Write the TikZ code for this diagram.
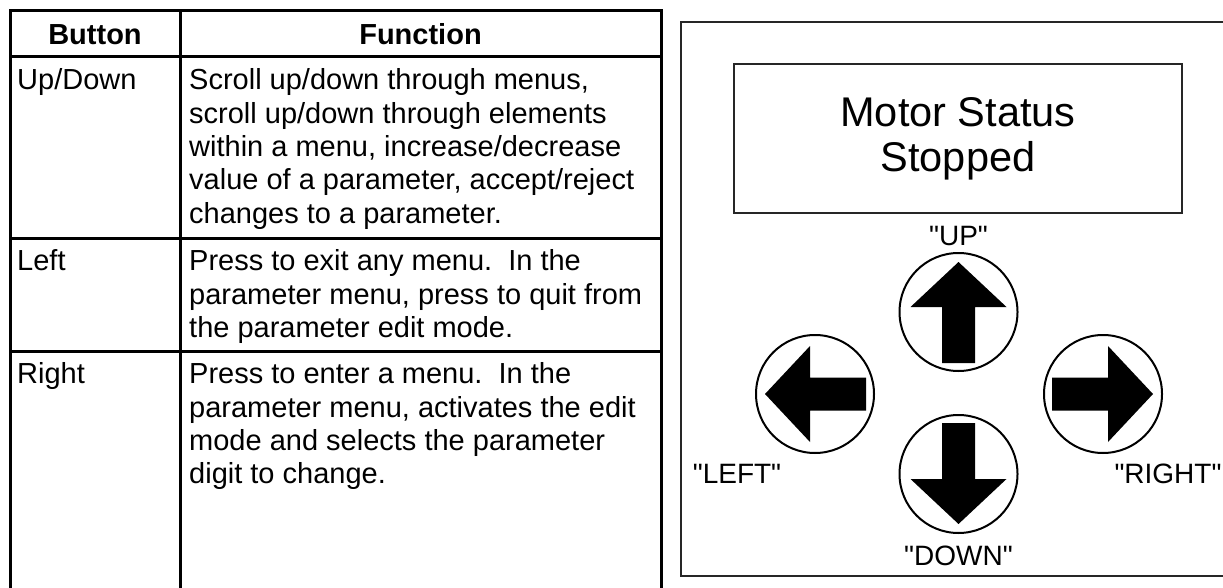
\documentclass[tikz,border=0pt]{standalone}
\usepackage{fontspec}
\setmainfont{Liberation Sans}[Ligatures=TeXOff]
\begin{document}
\begin{tikzpicture}[x=1pt,y=-1pt,
  tblline/.style={line width=3pt,black,line join=miter},
  frame/.style={line width=2.4pt,black!85,line join=miter},
  cell/.style={anchor=base west,inner sep=0pt,font=\fontsize{29}{33.3}\selectfont},
  hdr/.style={anchor=base,inner sep=0pt,font=\fontsize{29}{33.3}\selectfont\bfseries},
  lcdtext/.style={anchor=base,inner sep=0pt,font=\fontsize{41.5}{45}\selectfont},
  keylabel/.style={anchor=base,inner sep=0pt,font=\fontsize{28}{32}\selectfont},
  padkey/.style={circle,draw,line width=2pt,minimum size=118pt,inner sep=0pt},
  arrowfill/.style={fill=black}]
\useasboundingbox (0,0) rectangle (1223,588);

% ---- button table ----
\draw[tblline] (10,600) -- (10,11) -- (661,11) -- (661,600);
\draw[tblline] (180,11) -- (180,600);
\draw[tblline] (10,57) -- (661,57);
\draw[tblline] (10,238) -- (661,238);
\draw[tblline] (10,351) -- (661,351);

\node[hdr] (hbutton) at (95,45) {Button};
\node[hdr] (hfunction) at (420.5,45) {Function};

\node[cell] (b1) at (17,90) {Up/Down};
\foreach \t [count=\i] in {{Scroll up/down through menus,},
  {scroll up/down through elements},
  {within a menu, increase/decrease},
  {value of a parameter, accept/reject},
  {changes to a parameter.}}
  \node[cell] (fa\i) at (189,{90+(\i-1)*33.3}) {\t};

\node[cell] (b2) at (17,270.7) {Left};
\node[cell] (fb1) at (189,270.7) {Press to exit any menu.\ \ In the};
\node[cell] (fb2) at (189,304) {parameter menu, press to quit from};
\node[cell] (fb3) at (189,337.3) {the parameter edit mode.};

\node[cell] (b3) at (17,383.7) {Right};
\node[cell] (fc1) at (189,383.7) {Press to enter a menu.\ \ In the};
\node[cell] (fc2) at (189,417) {parameter menu, activates the edit};
\node[cell] (fc3) at (189,450.3) {mode and selects the parameter};
\node[cell] (fc4) at (189,483.6) {digit to change.};

% ---- keypad panel ----
\draw[frame] (1240,22) -- (681,22) -- (681,576) -- (1240,576);
\draw[frame] (734,64) rectangle (1182,213);
\node[lcdtext] (lcd1) at (958,127) {Motor Status};
\node[lcdtext] (lcd2) at (958,172) {Stopped};

\node[padkey] (up) at (958.5,312) {};
\node[padkey] (down) at (958.5,474) {};
\node[padkey] (left) at (815,394) {};
\node[padkey] (right) at (1103,394) {};

\fill[arrowfill,shift={(up.center)}] (0,-50) -- (48,-5) -- (16.5,-5) -- (16.5,51) -- (-16.5,51) -- (-16.5,-5) -- (-48,-5) -- cycle;
\fill[arrowfill,shift={(down.center)}] (0,50) -- (48,5) -- (16.5,5) -- (16.5,-51) -- (-16.5,-51) -- (-16.5,5) -- (-48,5) -- cycle;
\fill[arrowfill,shift={(left.center)}] (-50,0) -- (-5,48) -- (-5,16.5) -- (51,16.5) -- (51,-16.5) -- (-5,-16.5) -- (-5,-48) -- cycle;
\fill[arrowfill,shift={(right.center)}] (50,0) -- (5,48) -- (5,16.5) -- (-51,16.5) -- (-51,-16.5) -- (5,-16.5) -- (5,-48) -- cycle;

\node[keylabel] (lup) at (958.5,245) {"UP"};
\node[keylabel] (ldown) at (958.5,565) {"DOWN"};
\node[keylabel] (lleft) at (737,483) {"LEFT"};
\node[keylabel] (lright) at (1168,483) {"RIGHT"};
\end{tikzpicture}
\end{document}
